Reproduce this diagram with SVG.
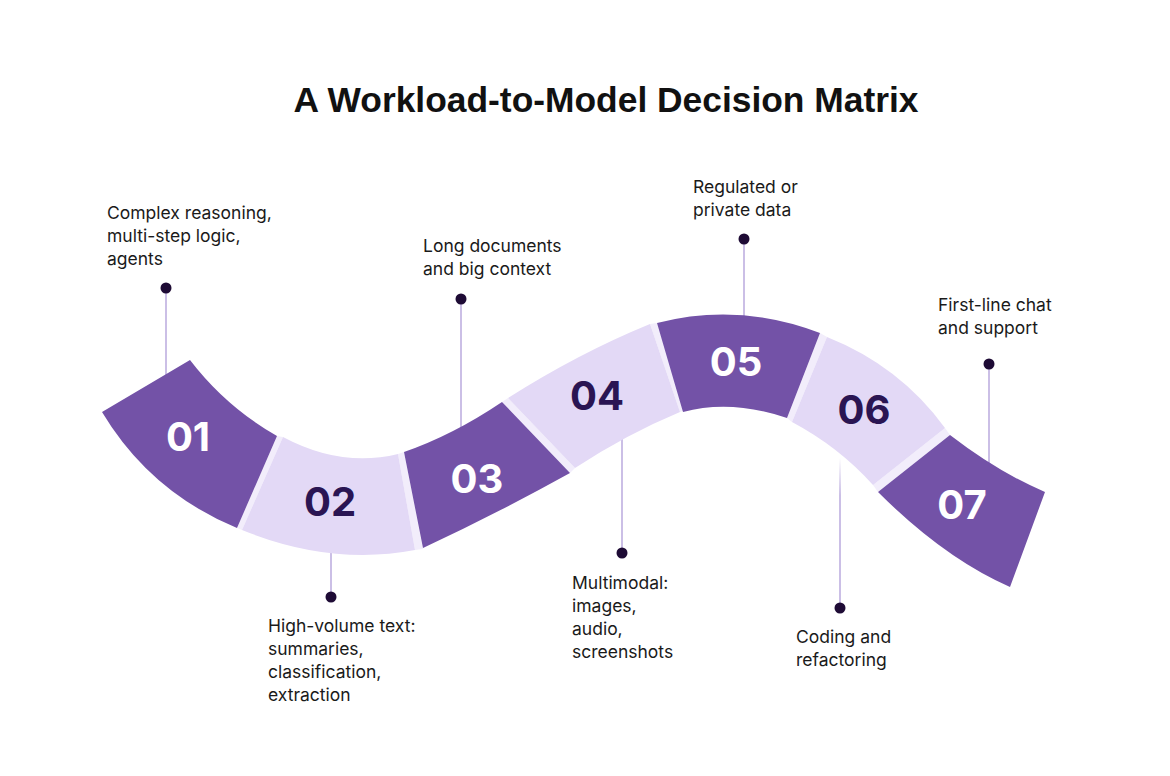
<svg xmlns="http://www.w3.org/2000/svg" width="1170" height="776" viewBox="0 0 1170 776">
<style>
.dark{fill:#7352A7}
.light{fill:#E3D9F6}
.gap{fill:#F2EDFB}
.numw{font-family:Inter,"Liberation Sans",sans-serif;font-weight:700;font-size:40px;fill:#FFFFFF;text-anchor:middle}
.numd{font-family:Inter,"Liberation Sans",sans-serif;font-weight:700;font-size:40px;fill:#2A1553;text-anchor:middle}
.lbl{font-family:Inter,"Liberation Sans",sans-serif;font-size:17.5px;fill:#1A1A1A}
.title{font-family:"Liberation Sans",Arial,sans-serif;font-weight:700;font-size:35px;fill:#111111;text-anchor:middle}
.conn{stroke:#CBBFE6;stroke-width:2;fill:none}
.dot{fill:#1E0B35}
</style>
<defs>
<linearGradient id="fade" x1="0" y1="0" x2="0" y2="1">
<stop offset="0" stop-color="#CBBFE6" stop-opacity="0"/>
<stop offset="0.25" stop-color="#CBBFE6" stop-opacity="1"/>
<stop offset="1" stop-color="#CBBFE6" stop-opacity="1"/>
</linearGradient>
</defs>
<rect width="1170" height="776" fill="#FFFFFF"/>
<text class="title" x="606" y="112" textLength="625" lengthAdjust="spacingAndGlyphs">A Workload-to-Model Decision Matrix</text>
<g id="connectors">
<line class="conn" x1="166" y1="288" x2="166" y2="378"/>
<line class="conn" x1="331" y1="548" x2="331" y2="597"/>
<line class="conn" x1="461" y1="299" x2="461" y2="434"/>
<line class="conn" x1="622" y1="434" x2="622" y2="553"/>
<line class="conn" x1="744" y1="239" x2="744" y2="318"/>
<rect x="839" y="458" width="2" height="150" fill="url(#fade)"/>
<line class="conn" x1="989" y1="364" x2="989" y2="468"/>
</g>
<g id="gaps">
<path class="gap" d="M277,436 L283,437 L242,530 L237,528 Z"/>
<path class="gap" d="M398,454 L404,452 L423,549 L415,550 Z"/>
<path class="gap" d="M502,402 L508,398 L575,468 L570,473 Z"/>
<path class="gap" d="M650,324 L657,323 L685,410 L680,412 Z"/>
<path class="gap" d="M820,333 L827,337 L792,422 L787,418 Z"/>
<path class="gap" d="M945,428 L950,435 L878,492 L873,485 Z"/>
</g>
<g id="node01">
<path class="dark" d="M190,360 Q226,407 277,436 L237,528 Q150,492 102,412 Z"/>
<text class="numw" x="188" y="451">01</text>
<circle class="dot" cx="166" cy="288" r="5.5"/>
<text class="lbl" x="107" y="219">Complex reasoning,</text>
<text class="lbl" x="107" y="242">multi-step logic,</text>
<text class="lbl" x="107" y="265">agents</text>
</g>
<g id="node02">
<path class="light" d="M283,437 Q341,468 398,454 L415,550 Q331,566 242,530 Z"/>
<text class="numd" x="330" y="516">02</text>
<circle class="dot" cx="331" cy="597" r="5.5"/>
<text class="lbl" x="268" y="632">High-volume text:</text>
<text class="lbl" x="268" y="655">summaries,</text>
<text class="lbl" x="268" y="678">classification,</text>
<text class="lbl" x="268" y="701">extraction</text>
</g>
<g id="node03">
<path class="dark" d="M404,452 Q453,435 502,402 L570,473 Q496,514 423,548 Z"/>
<text class="numw" x="477" y="493">03</text>
<circle class="dot" cx="461" cy="299" r="5.5"/>
<text class="lbl" x="423" y="252">Long documents</text>
<text class="lbl" x="423" y="275">and big context</text>
</g>
<g id="node04">
<path class="light" d="M508,398 Q579,353 650,324 L680,412 Q627,434 575,468 Z"/>
<text class="numd" x="597" y="410">04</text>
<circle class="dot" cx="622" cy="553" r="5.5"/>
<text class="lbl" x="572" y="589">Multimodal:</text>
<text class="lbl" x="572" y="612">images,</text>
<text class="lbl" x="572" y="635">audio,</text>
<text class="lbl" x="572" y="658">screenshots</text>
</g>
<g id="node05">
<path class="dark" d="M657,323 Q739,302 820,333 L787,418 Q731,399 683,412 Z"/>
<text class="numw" x="736" y="376">05</text>
<circle class="dot" cx="744" cy="239" r="5.5"/>
<text class="lbl" x="693" y="193">Regulated or</text>
<text class="lbl" x="693" y="216">private data</text>
</g>
<g id="node06">
<path class="light" d="M827,337 Q900,366 945,428 L873,485 Q839,447 792,422 Z"/>
<text class="numd" x="864" y="424">06</text>
<circle class="dot" cx="840" cy="608" r="5.5"/>
<text class="lbl" x="796" y="643">Coding and</text>
<text class="lbl" x="796" y="666">refactoring</text>
</g>
<g id="node07">
<path class="dark" d="M950,435 Q998,472 1045,492 L1010,587 Q944,558 878,492 Z"/>
<text class="numw" x="962" y="519">07</text>
<circle class="dot" cx="989" cy="364" r="5.5"/>
<text class="lbl" x="938" y="311">First-line chat</text>
<text class="lbl" x="938" y="334">and support</text>
</g>
</svg>
